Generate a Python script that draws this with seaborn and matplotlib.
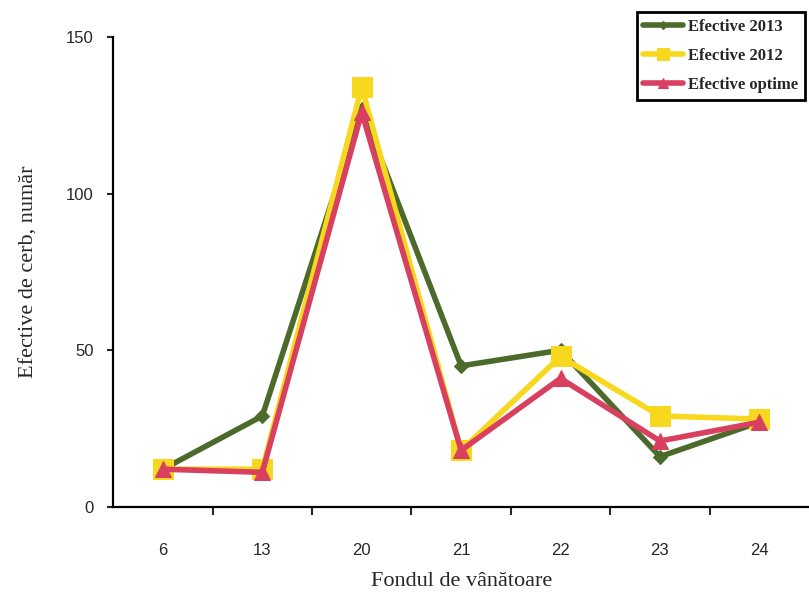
import matplotlib
matplotlib.use("Agg")
import matplotlib.pyplot as plt
import seaborn as sns
import pandas as pd

# Deer counts per hunting ground
fonduri = ["6", "13", "20", "21", "22", "23", "24"]
efective_2013 = [12, 29, 127, 45, 50, 16, 27]
efective_2012 = [12, 12, 134, 18, 48, 29, 28]
efective_optime = [12, 11, 126, 18, 41, 21, 27]

serii = ["Efective 2013", "Efective 2012", "Efective optime"]
culori = {"Efective 2013": "#4b6a2b", "Efective 2012": "#f7d81e", "Efective optime": "#d9405f"}
markere = {"Efective 2013": "D", "Efective 2012": "s", "Efective optime": "^"}
marimi = {"Efective 2013": 7, "Efective 2012": 14, "Efective optime": 11}

df = pd.DataFrame({
    "fond": fonduri * 3,
    "efective": efective_2013 + efective_2012 + efective_optime,
    "serie": [s for s in serii for _ in fonduri],
})

sns.set_style("ticks")
plt.rcParams["font.family"] = ["Liberation Sans", "DejaVu Sans"]

fig = plt.figure(figsize=(8.09, 5.99), dpi=100)
ax = fig.add_axes([0.14, 0.154, 0.86, 0.784])

for s in serii:
    sns.lineplot(data=df[df["serie"] == s], x="fond", y="efective", sort=False,
                 color=culori[s], marker=markere[s], markersize=marimi[s],
                 markeredgecolor=culori[s], linewidth=4, label=s, ax=ax)

ax.set_ylim(0, 150)
ax.set_xlim(-0.5, 6.5)
ax.set_yticks([0, 50, 100, 150])
ax.set_xticks(range(len(fonduri)))
ax.set_xticklabels(fonduri)
ax.set_xticks([i + 0.5 for i in range(6)], minor=True)
ax.tick_params(axis="x", which="major", length=0, pad=26, labelsize=12)
ax.tick_params(axis="x", which="minor", length=6, width=1.5, direction="out")
ax.tick_params(axis="y", length=4, width=1.5, pad=10, labelsize=12)
for sp in ["top", "right"]:
    ax.spines[sp].set_visible(False)
for sp in ["left", "bottom"]:
    ax.spines[sp].set_linewidth(1.6)
    ax.spines[sp].set_color("black")

ax.set_xlabel("Fondul de vânătoare", family=["Liberation Serif", "DejaVu Serif"],
              fontsize=16, labelpad=10)
ax.set_ylabel("Efective de cerb, număr", family=["Liberation Serif", "DejaVu Serif"],
              fontsize=16, labelpad=20)

ax.get_legend().remove()
handles, labels = ax.get_legend_handles_labels()
leg = fig.legend(handles, labels, loc="upper right", bbox_to_anchor=(805 / 809, 1 - 12 / 599),
                 frameon=True, fancybox=False, edgecolor="black", framealpha=1,
                 prop={"family": "Liberation Serif", "weight": "bold", "size": 12},
                 handlelength=2.4, handletextpad=0.3, borderpad=0.4, labelspacing=0.8,
                 borderaxespad=0, markerscale=0.6)
leg.get_frame().set_linewidth(2)

fig.savefig("out.png", dpi=100)
